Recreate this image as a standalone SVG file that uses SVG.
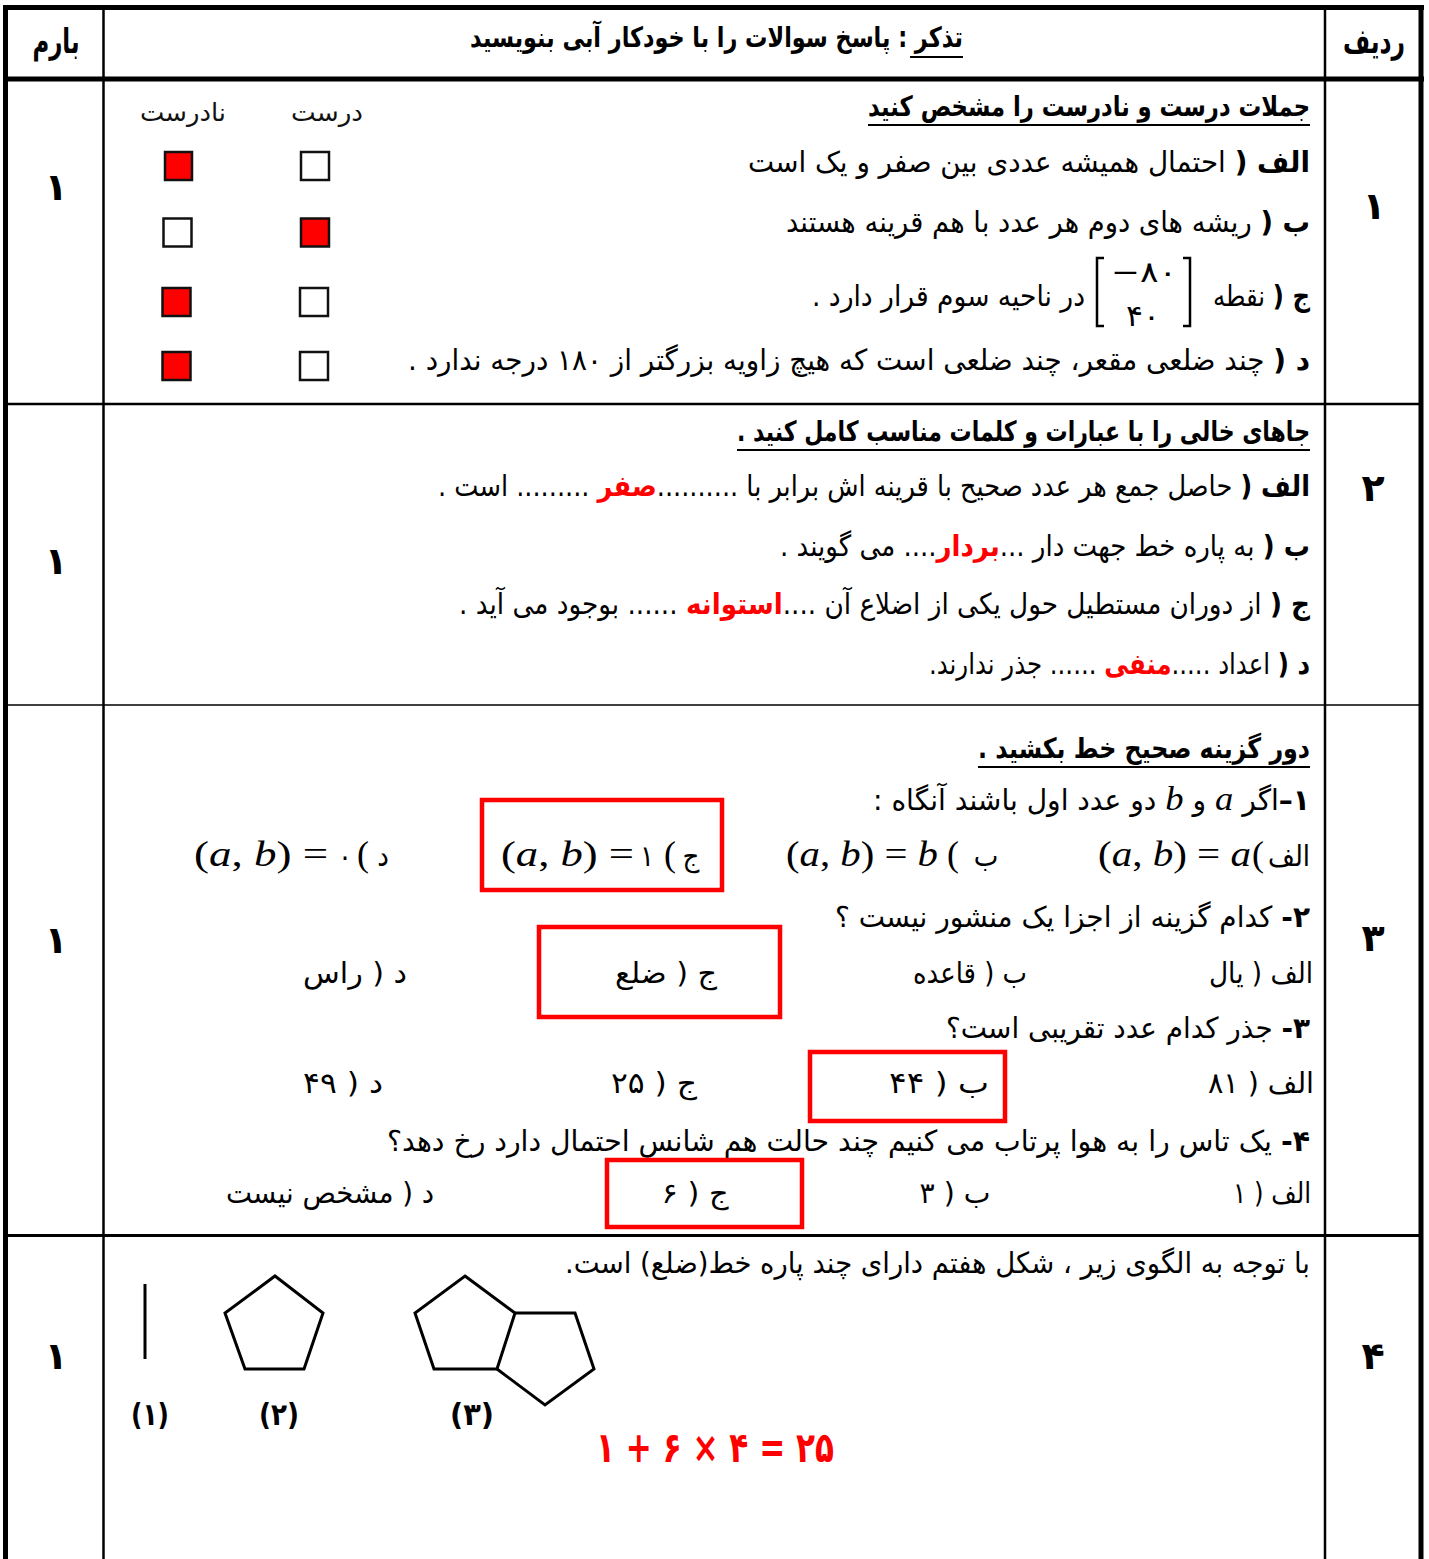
<svg xmlns="http://www.w3.org/2000/svg" width="1429" height="1559" viewBox="0 0 1429 1559">
<style>
.t{font-family:"DejaVu Sans Condensed","DejaVu Sans",sans-serif;font-stretch:condensed;font-size:29px;direction:rtl;text-anchor:middle;fill:#000}
.h{font-size:28px;font-weight:bold}
.b{font-weight:bold}
.red{fill:#f00;font-weight:bold}
.ltr{direction:ltr}
.num{font-family:"DejaVu Sans",sans-serif;font-size:38px;font-weight:bold;text-anchor:middle;fill:#000}
.lbl{font-family:"DejaVu Sans",sans-serif;font-size:25px;direction:rtl;text-anchor:middle;fill:#111}
.m{font-family:"Liberation Serif",serif;font-size:36px;direction:ltr;text-anchor:middle;fill:#000}
.i{font-style:italic}
.mi{font-family:"Liberation Serif",serif;font-style:italic;font-size:34px}
.grid{stroke:#000;fill:none}
.box{stroke:#111;stroke-width:2.5}
.on{fill:#f00}
.off{fill:#fff}
.sel{fill:none;stroke:#f00;stroke-width:4.5}
.shape{fill:none;stroke:#000;stroke-width:3;stroke-linejoin:miter}
</style>
<rect width="1429" height="1559" fill="#fff"/>
<g id="table-lines" class="grid">
<line x1="3" y1="7.5" x2="1424" y2="7.5" stroke-width="5"/>
<line x1="5.5" y1="5" x2="5.5" y2="1559" stroke-width="5"/>
<line x1="1421" y1="5" x2="1421" y2="1559" stroke-width="5"/>
<line x1="3" y1="79" x2="1424" y2="79" stroke-width="5"/>
<line x1="103.5" y1="8" x2="103.5" y2="1559" stroke-width="2.5"/>
<line x1="1325" y1="8" x2="1325" y2="1559" stroke-width="2.5"/>
<line x1="5" y1="404" x2="1421" y2="404" stroke-width="2.5"/>
<line x1="5" y1="705" x2="1421" y2="705" stroke-width="1.5"/>
<line x1="5" y1="1235.5" x2="1421" y2="1235.5" stroke-width="3"/>
</g>
<g id="header">
<text class="t b" x="1374" y="53" style="font-size:34px" textLength="62" lengthAdjust="spacingAndGlyphs">ردیف</text>
<text class="t b" x="56" y="53" style="font-size:34px" textLength="47" lengthAdjust="spacingAndGlyphs">بارم</text>
<text class="t h" x="716.5" y="47" textLength="493" lengthAdjust="spacingAndGlyphs">تذکر : پاسخ سوالات را با خودکار آبی بنویسید</text>
<line x1="910" y1="57" x2="963" y2="57" stroke="#000" stroke-width="2"/>
</g>
<g id="q1">
<text class="num" x="1374" y="219">۱</text>
<text class="num" x="56" y="200">۱</text>
<text class="t h" x="1089" y="116" textLength="442" lengthAdjust="spacingAndGlyphs">جملات درست و نادرست را مشخص کنید</text>
<line x1="868" y1="125" x2="1310" y2="125" stroke="#000" stroke-width="2"/>
<text class="t" x="1029" y="172" textLength="562" lengthAdjust="spacingAndGlyphs"><tspan class="b">الف (</tspan> احتمال همیشه عددی بین صفر و یک است</text>
<text class="t" x="1048" y="232" textLength="524" lengthAdjust="spacingAndGlyphs"><tspan class="b">ب (</tspan> ریشه های دوم هر عدد با هم قرینه هستند</text>
<text class="t" x="1261.5" y="306" textLength="97" lengthAdjust="spacingAndGlyphs"><tspan class="b">ج (</tspan> نقطه</text>
<path d="M1104 258H1097V326H1104M1183 258H1190V326H1183" fill="none" stroke="#000" stroke-width="2.5"/>
<text class="t ltr" x="1144" y="282" textLength="66" lengthAdjust="spacingAndGlyphs">−۸۰</text>
<text class="t ltr" x="1143" y="326" textLength="34" lengthAdjust="spacingAndGlyphs">۴۰</text>
<text class="t" x="948.5" y="306" textLength="273" lengthAdjust="spacingAndGlyphs">در ناحیه سوم قرار دارد .</text>
<text class="t" x="859" y="370" textLength="902" lengthAdjust="spacingAndGlyphs"><tspan class="b">د (</tspan> چند ضلعی مقعر، چند ضلعی است که هیچ زاویه بزرگتر از ۱۸۰ درجه ندارد .</text>
<text class="lbl" x="327" y="121" textLength="72" lengthAdjust="spacingAndGlyphs">درست</text>
<text class="lbl" x="183" y="121" textLength="86" lengthAdjust="spacingAndGlyphs">نادرست</text>
<rect class="box on" x="165" y="152" width="27" height="28"/>
<rect class="box off" x="301" y="152" width="28" height="28"/>
<rect class="box off" x="163.5" y="218.5" width="28" height="28"/>
<rect class="box on" x="301" y="218.5" width="28" height="28"/>
<rect class="box on" x="162.5" y="288" width="28" height="28"/>
<rect class="box off" x="300" y="288" width="28" height="28"/>
<rect class="box on" x="162.5" y="352" width="28" height="28"/>
<rect class="box off" x="300" y="352" width="28" height="28"/>
</g>
<g id="q2">
<text class="num" x="1373" y="501">۲</text>
<text class="num" x="56" y="574">۱</text>
<text class="t h" x="1023.5" y="441" textLength="573" lengthAdjust="spacingAndGlyphs">جاهای خالی را با عبارات و کلمات مناسب کامل کنید .</text>
<line x1="737" y1="450" x2="1310" y2="450" stroke="#000" stroke-width="2"/>
<text class="t" x="874" y="496" textLength="872" lengthAdjust="spacingAndGlyphs"><tspan class="b">الف (</tspan> حاصل جمع هر عدد صحیح با قرینه اش برابر با ..........<tspan class="red">صفر</tspan> ......... است .</text>
<text class="t" x="1045" y="556" textLength="530" lengthAdjust="spacingAndGlyphs"><tspan class="b">ب (</tspan> به پاره خط جهت دار ...<tspan class="red">بردار</tspan>.... می گویند .</text>
<text class="t" x="884.5" y="614" textLength="851" lengthAdjust="spacingAndGlyphs"><tspan class="b">ج (</tspan> از دوران مستطیل حول یکی از اضلاع آن ....<tspan class="red">استوانه</tspan> ...... بوجود می آید .</text>
<text class="t" x="1119.5" y="674" textLength="381" lengthAdjust="spacingAndGlyphs"><tspan class="b">د (</tspan> اعداد .....<tspan class="red">منفی</tspan> ...... جذر ندارند.</text>
</g>
<g id="q3">
<text class="num" x="1373" y="951">۳</text>
<text class="num" x="56" y="953">۱</text>
<text class="t h" x="1144" y="758" textLength="332" lengthAdjust="spacingAndGlyphs">دور گزینه صحیح  خط بکشید .</text>
<line x1="978" y1="767" x2="1310" y2="767" stroke="#000" stroke-width="2"/>
<text class="t" x="1091.5" y="810" textLength="437" lengthAdjust="spacingAndGlyphs"><tspan class="b">۱–</tspan>اگر <tspan class="mi">a</tspan> و <tspan class="mi">b</tspan> دو عدد اول باشند آنگاه :</text>
<text class="t" x="1289" y="866" textLength="42" lengthAdjust="spacingAndGlyphs">الف</text>
<text class="m" x="1258" y="866">(</text>
<text class="m" x="1174.5" y="866" textLength="153" lengthAdjust="spacingAndGlyphs">(<tspan class="i">a</tspan>, <tspan class="i">b</tspan>) = <tspan class="i">a</tspan></text>
<text class="t" x="986" y="866">ب</text>
<text class="m" x="953" y="866">(</text>
<text class="m" x="862" y="866" textLength="152" lengthAdjust="spacingAndGlyphs">(<tspan class="i">a</tspan>, <tspan class="i">b</tspan>) = <tspan class="i">b</tspan></text>
<text class="t" x="691" y="866">ج</text>
<text class="m" x="670" y="866">(</text>
<text class="t" x="647" y="866">۱</text>
<text class="m" x="567.5" y="866" textLength="133" lengthAdjust="spacingAndGlyphs">(<tspan class="i">a</tspan>, <tspan class="i">b</tspan>) =</text>
<text class="t" x="383" y="866">د</text>
<text class="m" x="363" y="866">(</text>
<text class="t" x="345" y="866">۰</text>
<text class="m" x="261" y="866" textLength="134" lengthAdjust="spacingAndGlyphs">(<tspan class="i">a</tspan>, <tspan class="i">b</tspan>) =</text>
<rect class="sel" x="482" y="800" width="240" height="90"/>
<text class="t" x="1072.5" y="927" textLength="475" lengthAdjust="spacingAndGlyphs"><tspan class="b">۲-</tspan> کدام  گزینه از اجزا یک منشور نیست ؟</text>
<text class="t" x="1261" y="983" textLength="104" lengthAdjust="spacingAndGlyphs">الف ( یال</text>
<text class="t" x="970" y="983" textLength="114" lengthAdjust="spacingAndGlyphs">ب ( قاعده</text>
<text class="t" x="666" y="983" textLength="102" lengthAdjust="spacingAndGlyphs">ج ( ضلع</text>
<text class="t" x="355" y="983" textLength="104" lengthAdjust="spacingAndGlyphs">د ( راس</text>
<rect class="sel" x="539" y="927" width="241" height="90"/>
<text class="t" x="1128" y="1038" textLength="364" lengthAdjust="spacingAndGlyphs"><tspan class="b">۳-</tspan> جذر کدام عدد تقریبی است؟</text>
<text class="t" x="1261" y="1093" textLength="106" lengthAdjust="spacingAndGlyphs">الف ( ۸۱</text>
<text class="t" x="939" y="1093" textLength="100" lengthAdjust="spacingAndGlyphs">ب ( ۴۴</text>
<text class="t" x="654" y="1093" textLength="86" lengthAdjust="spacingAndGlyphs">ج ( ۲۵</text>
<text class="t" x="343" y="1093" textLength="80" lengthAdjust="spacingAndGlyphs">د ( ۴۹</text>
<rect class="sel" x="810" y="1052" width="195" height="69"/>
<text class="t" x="848.5" y="1151" textLength="923" lengthAdjust="spacingAndGlyphs"><tspan class="b">۴-</tspan> یک تاس را به هوا پرتاب می کنیم چند حالت هم شانس احتمال دارد رخ دهد؟</text>
<text class="t" x="1272" y="1203" textLength="78" lengthAdjust="spacingAndGlyphs">الف ( ۱</text>
<text class="t" x="955" y="1203" textLength="71" lengthAdjust="spacingAndGlyphs">ب ( ۳</text>
<text class="t" x="695" y="1203" textLength="67" lengthAdjust="spacingAndGlyphs">ج ( ۶</text>
<text class="t" x="330" y="1203" textLength="208" lengthAdjust="spacingAndGlyphs">د ( مشخص نیست</text>
<rect class="sel" x="607" y="1160" width="195" height="67"/>
</g>
<g id="q4">
<text class="num" x="1373" y="1369">۴</text>
<text class="num" x="56" y="1369">۱</text>
<text class="t" x="937.5" y="1273" textLength="745" lengthAdjust="spacingAndGlyphs">با توجه به الگوی زیر ، شکل هفتم دارای چند پاره خط(ضلع) است.</text>
<line class="shape" x1="145" y1="1284" x2="145" y2="1359"/>
<polygon class="shape" points="275,1276 323,1313 304,1369 245,1369 225,1313"/>
<polygon class="shape" points="465,1276 515,1313 497,1369 434,1369 415,1313"/>
<polyline class="shape" points="515,1313 575,1313 594,1369 545,1405 497,1369"/>
<text class="t b ltr" x="150" y="1425" style="font-size:31px" textLength="38" lengthAdjust="spacingAndGlyphs">(۱)</text>
<text class="t b ltr" x="279" y="1425" style="font-size:31px" textLength="40" lengthAdjust="spacingAndGlyphs">(۲)</text>
<text class="t b ltr" x="472" y="1425" style="font-size:31px" textLength="44" lengthAdjust="spacingAndGlyphs">(۳)</text>
<text class="t b ltr" x="715" y="1462" style="font-size:42px;fill:#f00" textLength="238" lengthAdjust="spacingAndGlyphs">۱ + ۶ × ۴ = ۲۵</text>
</g>
</svg>
